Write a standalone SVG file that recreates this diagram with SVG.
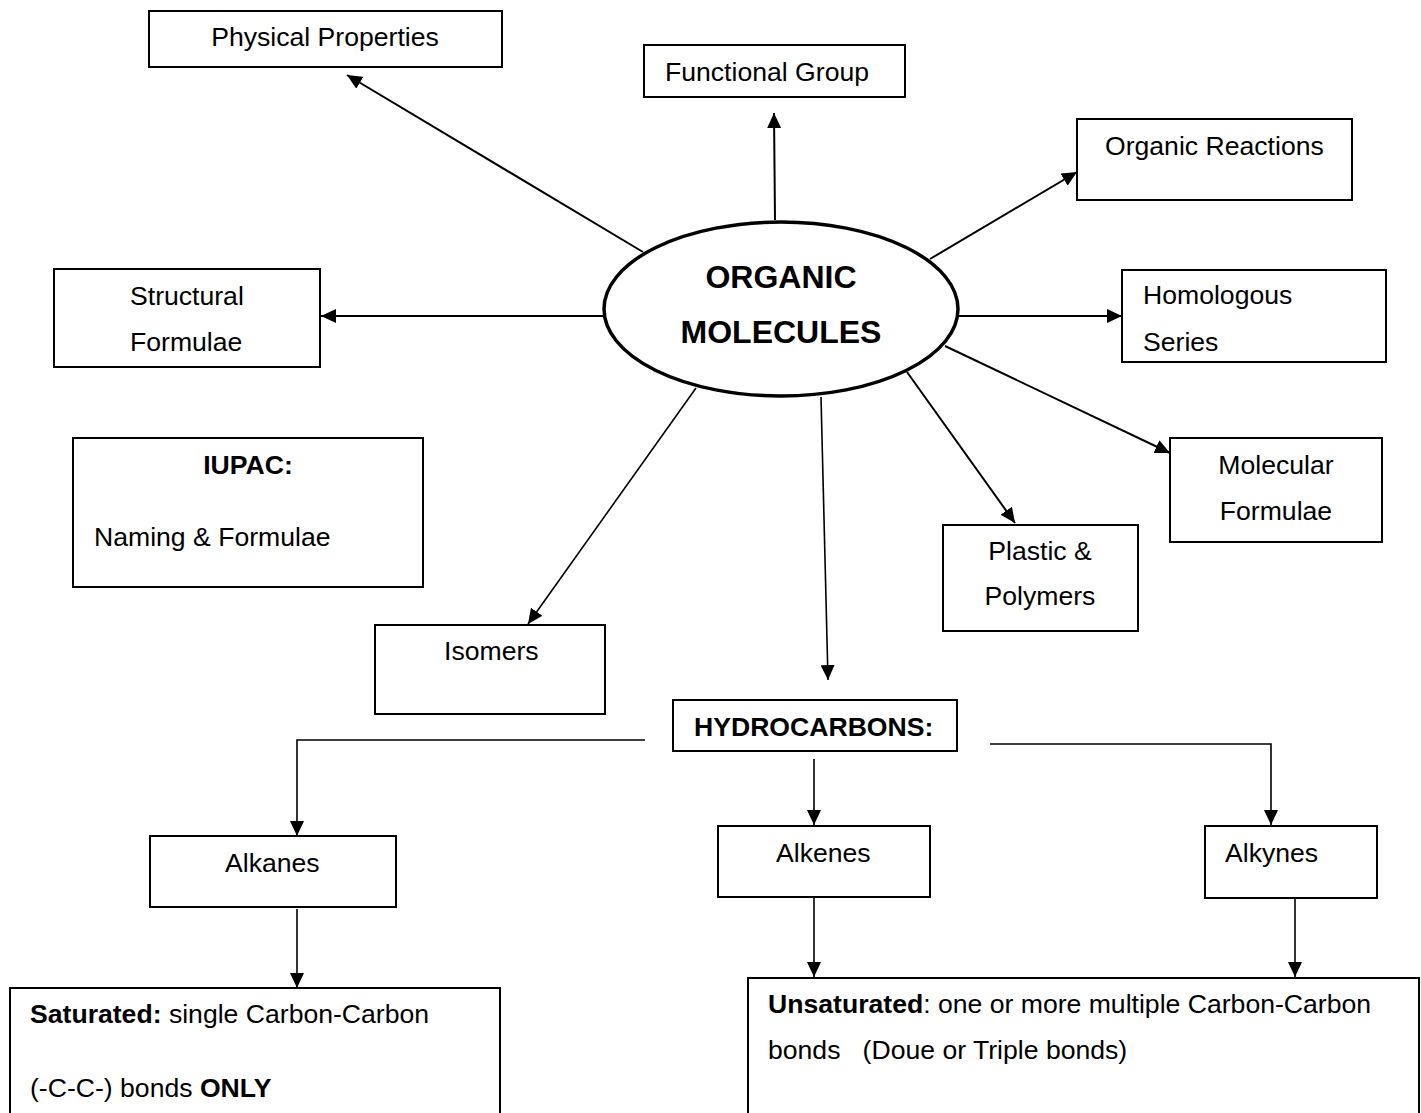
<svg xmlns="http://www.w3.org/2000/svg" width="1421" height="1113" viewBox="0 0 1421 1113">
<style>
  .box { fill: #fff; stroke: #000; stroke-width: 2; }
  .ell { fill: #fff; stroke: #000; stroke-width: 3.5; }
  .t { font-family: "Liberation Sans", Arial, sans-serif; font-size: 26.6px; fill: #000; }
  .b { font-weight: bold; }
  .big { font-family: "Liberation Sans", Arial, sans-serif; font-size: 32px; font-weight: bold; fill: #000; }
  .c { text-anchor: middle; }
  .ln { fill: none; stroke: #000; stroke-width: 2; }
  .thin { stroke-width: 1.6; }
  .pre { white-space: pre; }
</style>
<defs>
  <marker id="ah" markerUnits="userSpaceOnUse" markerWidth="16" markerHeight="14" refX="15" refY="7" orient="auto">
    <path d="M0,0 L15,7 L0,14 z" fill="#000"/>
  </marker>
</defs>
<rect width="1421" height="1113" fill="#fff"/>

<g id="connectors">
  <line class="ln" x1="643" y1="252" x2="347" y2="75" marker-end="url(#ah)"/>
  <line class="ln" x1="775" y1="220" x2="774" y2="113" marker-end="url(#ah)"/>
  <line class="ln" x1="930" y1="259" x2="1077" y2="172" marker-end="url(#ah)"/>
  <line class="ln" x1="604" y1="316" x2="321" y2="316" marker-end="url(#ah)"/>
  <line class="ln" x1="958" y1="316" x2="1122" y2="316" marker-end="url(#ah)"/>
  <line class="ln" x1="945" y1="346" x2="1170" y2="453" marker-end="url(#ah)"/>
  <line class="ln" x1="907" y1="372" x2="1015" y2="523" marker-end="url(#ah)"/>
  <line class="ln thin" x1="696" y1="388" x2="528" y2="624" marker-end="url(#ah)"/>
  <line class="ln thin" x1="821" y1="397" x2="828" y2="680" marker-end="url(#ah)"/>
  <polyline class="ln thin" points="645,740 297,740 297,836" marker-end="url(#ah)"/>
  <line class="ln thin" x1="814" y1="759" x2="814" y2="825" marker-end="url(#ah)"/>
  <polyline class="ln thin" points="990,744 1271,744 1271,825" marker-end="url(#ah)"/>
  <line class="ln thin" x1="297" y1="909" x2="297" y2="988" marker-end="url(#ah)"/>
  <line class="ln thin" x1="814" y1="897" x2="814" y2="977" marker-end="url(#ah)"/>
  <line class="ln thin" x1="1295" y1="897" x2="1295" y2="977" marker-end="url(#ah)"/>
</g>

<g id="organic-molecules">
  <ellipse class="ell" cx="781" cy="309" rx="177" ry="87"/>
  <text class="big c" x="781" y="288">ORGANIC</text>
  <text class="big c" x="781" y="343">MOLECULES</text>
</g>

<g id="physical-properties">
  <rect class="box" x="149" y="11" width="353" height="56"/>
  <text class="t c" x="325" y="46">Physical Properties</text>
</g>

<g id="functional-group">
  <rect class="box" x="644" y="45" width="261" height="52"/>
  <text class="t" x="665" y="81">Functional Group</text>
</g>

<g id="organic-reactions">
  <rect class="box" x="1077" y="119" width="275" height="81"/>
  <text class="t" x="1105" y="155">Organic Reactions</text>
</g>

<g id="structural-formulae">
  <rect class="box" x="54" y="269" width="266" height="98"/>
  <text class="t" x="130" y="305">Structural</text>
  <text class="t" x="130" y="351">Formulae</text>
</g>

<g id="homologous-series">
  <rect class="box" x="1122" y="270" width="264" height="92"/>
  <text class="t" x="1143" y="304">Homologous</text>
  <text class="t" x="1143" y="351">Series</text>
</g>

<g id="iupac">
  <rect class="box" x="73" y="438" width="350" height="149"/>
  <text class="t b c" x="248" y="474">IUPAC:</text>
  <text class="t" x="94" y="546">Naming &amp; Formulae</text>
</g>

<g id="molecular-formulae">
  <rect class="box" x="1170" y="438" width="212" height="104"/>
  <text class="t c" x="1276" y="474">Molecular</text>
  <text class="t c" x="1276" y="520">Formulae</text>
</g>

<g id="plastic-polymers">
  <rect class="box" x="943" y="525" width="195" height="106"/>
  <text class="t c" x="1040" y="560">Plastic &amp;</text>
  <text class="t c" x="1040" y="605">Polymers</text>
</g>

<g id="isomers">
  <rect class="box" x="375" y="625" width="230" height="89"/>
  <text class="t" x="444" y="660">Isomers</text>
</g>

<g id="hydrocarbons">
  <rect class="box" x="673" y="700" width="284" height="51"/>
  <text class="t b" x="694" y="736">HYDROCARBONS:</text>
</g>

<g id="alkanes">
  <rect class="box" x="150" y="836" width="246" height="71"/>
  <text class="t" x="225" y="872">Alkanes</text>
</g>

<g id="alkenes">
  <rect class="box" x="718" y="826" width="212" height="71"/>
  <text class="t" x="776" y="862">Alkenes</text>
</g>

<g id="alkynes">
  <rect class="box" x="1205" y="826" width="172" height="72"/>
  <text class="t" x="1225" y="862">Alkynes</text>
</g>

<g id="saturated">
  <rect class="box" x="10" y="988" width="490" height="140"/>
  <text class="t" x="30" y="1023"><tspan class="b">Saturated:</tspan> single Carbon-Carbon</text>
  <text class="t" x="30" y="1097">(-C-C-) bonds <tspan class="b">ONLY</tspan></text>
</g>

<g id="unsaturated">
  <rect class="box" x="748" y="978" width="671" height="150"/>
  <text class="t" x="768" y="1013"><tspan class="b">Unsaturated</tspan>: one or more multiple Carbon-Carbon</text>
  <text class="t pre" x="768" y="1059">bonds   (Doue or Triple bonds)</text>
</g>
</svg>
